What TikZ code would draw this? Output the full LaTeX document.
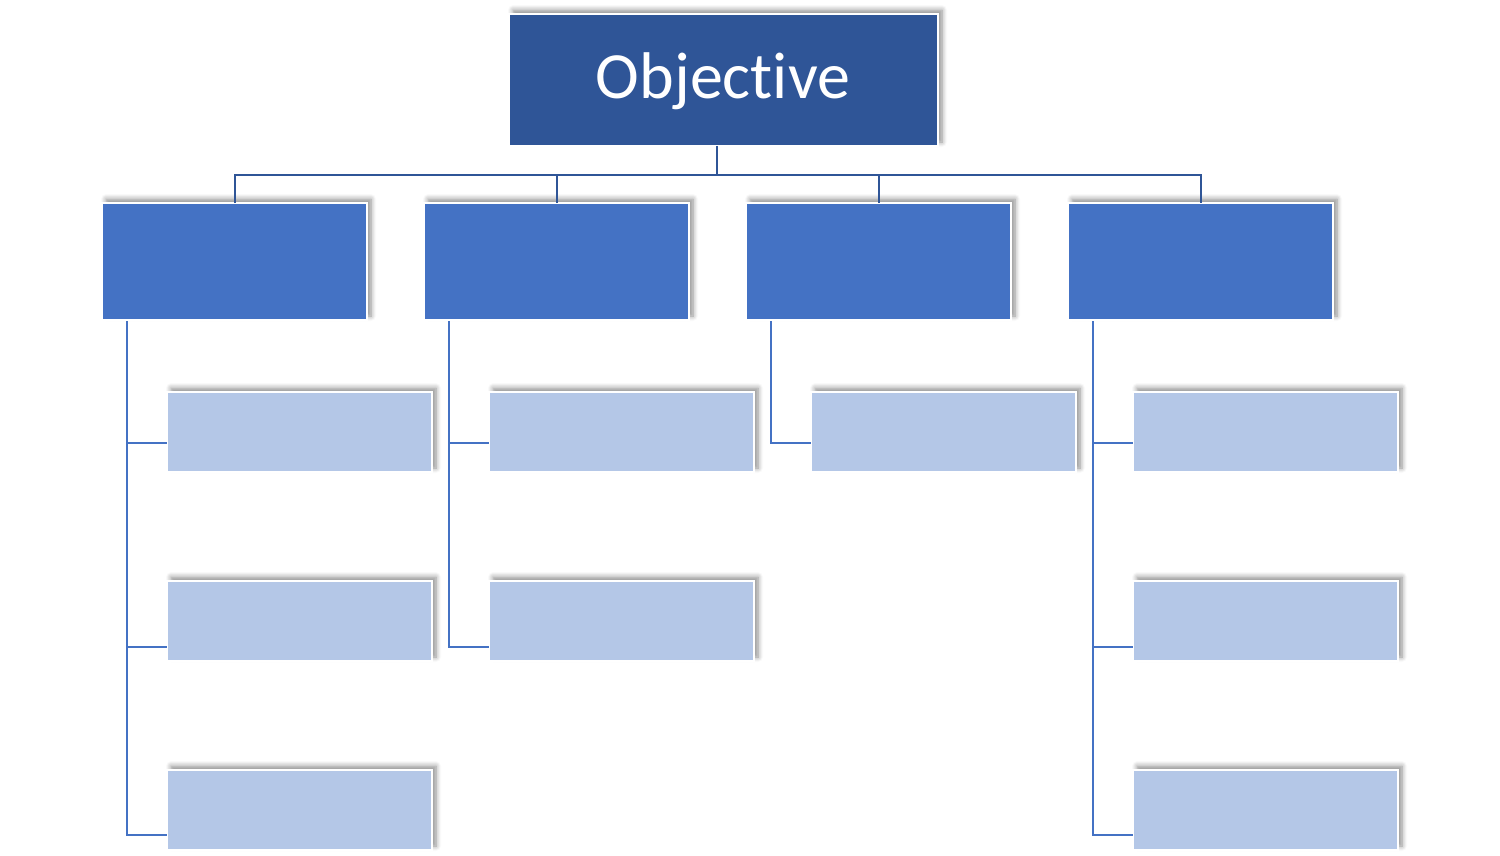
\documentclass[tikz,border=0pt]{standalone}
\usepackage{fontspec}
\setmainfont[Ligatures=NoCommon]{Carlito}
\usetikzlibrary{shadows.blur}
\definecolor{topblue}{HTML}{2F5597}
\definecolor{midblue}{HTML}{4472C4}
\definecolor{lightblue}{HTML}{B4C7E7}
\tikzset{
  boxbase/.style={draw=white, line width=1.5pt, inner sep=0pt, outer sep=0pt,
    blur shadow={shadow xshift=4pt, shadow yshift=4pt, shadow blur steps=6, shadow blur radius=5pt, shadow opacity=45}},
  topbox/.style={boxbase, fill=topblue, minimum width=429pt, minimum height=132pt,
    text=white, font=\fontsize{66}{72}\selectfont},
  midbox/.style={boxbase, fill=midblue, minimum width=265pt, minimum height=117pt},
  leafbox/.style={boxbase, fill=lightblue, minimum width=265pt, minimum height=80pt},
  toplink/.style={draw=topblue, line width=2pt},
  leaflink/.style={draw=midblue, line width=2pt},
}
\begin{document}
\begin{tikzpicture}[x=1pt,y=-1pt]
\useasboundingbox (0,0) rectangle (1500,856);
\node[topbox] (top) at (723.5,80) {};
\node[text=white, font=\fontsize{66}{72}\selectfont, inner sep=0pt] (toptext) at (723,81) {Objective};
\node[midbox] (m1) at (234.5,261.5) {};
\node[midbox] (m2) at (556.5,261.5) {};
\node[midbox] (m3) at (878.5,261.5) {};
\node[midbox] (m4) at (1200.5,261.5) {};
% leaves
\node[leafbox] (a1) at (299.5,432) {};
\node[leafbox] (a2) at (299.5,621) {};
\node[leafbox] (a3) at (299.5,810) {};
\node[leafbox] (b1) at (621.5,432) {};
\node[leafbox] (b2) at (621.5,621) {};
\node[leafbox] (c1) at (943.5,432) {};
\node[leafbox] (d1) at (1265.5,432) {};
\node[leafbox] (d2) at (1265.5,621) {};
\node[leafbox] (d3) at (1265.5,810) {};
% top connectors
\coordinate (hub) at (717,175);
\coordinate (tb) at (717,146);
\draw[toplink] (tb) -- (hub);
\draw[toplink] (m1.north) -- (m1.north |- hub) -- (m4.north |- hub) -- (m4.north);
\draw[toplink] (m2.north) -- (m2.north |- hub);
\draw[toplink] (m3.north) -- (m3.north |- hub);
% spines
\coordinate (s1) at (127,321);
\coordinate (s2) at (449,321);
\coordinate (s3) at (771,321);
\coordinate (s4) at (1093,321);
\draw[leaflink] (s1) -- ([yshift=-25pt]a3.west -| s1) -- ([yshift=-25pt]a3.west);
\draw[leaflink] ([yshift=-11pt]a1.west -| s1) -- ([yshift=-11pt]a1.west);
\draw[leaflink] ([yshift=-26pt]a2.west -| s1) -- ([yshift=-26pt]a2.west);
\draw[leaflink] (s2) -- ([yshift=-26pt]b2.west -| s2) -- ([yshift=-26pt]b2.west);
\draw[leaflink] ([yshift=-11pt]b1.west -| s2) -- ([yshift=-11pt]b1.west);
\draw[leaflink] (s3) -- ([yshift=-11pt]c1.west -| s3) -- ([yshift=-11pt]c1.west);
\draw[leaflink] (s4) -- ([yshift=-25pt]d3.west -| s4) -- ([yshift=-25pt]d3.west);
\draw[leaflink] ([yshift=-11pt]d1.west -| s4) -- ([yshift=-11pt]d1.west);
\draw[leaflink] ([yshift=-26pt]d2.west -| s4) -- ([yshift=-26pt]d2.west);
\end{tikzpicture}
\end{document}
